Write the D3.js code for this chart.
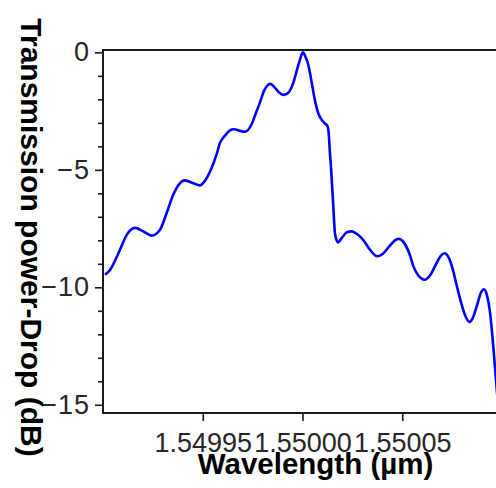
<!DOCTYPE html>
<html>
<head>
<meta charset="utf-8">
<script src="https://cdn.jsdelivr.net/npm/d3@7"></script>
<style>
html,body{margin:0;padding:0;background:#fff;}
svg{display:block;}
</style>
</head>
<body>
<svg id="chart" width="496" height="488"></svg>
<script>
// Wavelength (µm)
const wavelength = [
1.5499010,1.5499035,1.5499085,1.5499119,1.5499160,1.5499202,1.5499244,1.5499286,1.5499319,1.5499352,
1.5499394,1.5499411,1.5499452,1.5499486,1.5499520,1.5499545,1.5499570,1.5499586,1.5499611,1.5499636,
1.5499656,1.5499686,1.5499711,1.5499745,1.5499767,1.5499787,1.5499807,1.5499828,1.5499839,1.5499862,
1.5499882,1.5499903,1.5499922,1.5499942,1.5499957,1.5499970,1.5499987,1.5500002,1.5500015,1.5500029,
1.5500042,1.5500054,1.5500065,1.5500079,1.5500096,1.5500112,1.5500126,1.5500132,1.5500137,1.5500142,
1.5500146,1.5500154,1.5500162,1.5500170,1.5500179,1.5500192,1.5500207,1.5500222,1.5500246,1.5500268,
1.5500304,1.5500338,1.5500375,1.5500403,1.5500438,1.5500463,1.5500483,1.5500503,1.5500538,1.5500555,
1.5500578,1.5500613,1.5500638,1.5500668,1.5500693,1.5500713,1.5500733,1.5500754,1.5500772,1.5500794,
1.5500814,1.5500836,1.5500854,1.5500874,1.5500894,1.5500910,1.5500924,1.5500939,1.5500949,1.5500959,
1.5500969,1.5500976
];
// Transmission power - Drop (dB)
const dropDb = [
-9.47,-9.26,-8.40,-7.77,-7.47,-7.62,-7.80,-7.55,-6.84,-6.06,
-5.50,-5.45,-5.57,-5.66,-5.35,-4.91,-4.32,-3.86,-3.55,-3.32,
-3.27,-3.34,-3.38,-3.06,-2.57,-2.13,-1.64,-1.38,-1.34,-1.51,
-1.70,-1.81,-1.77,-1.55,-1.21,-0.82,-0.32,0.00,-0.19,-0.53,
-1.09,-1.67,-2.15,-2.59,-2.87,-3.02,-3.16,-3.51,-4.23,-4.79,
-5.35,-6.49,-7.64,-7.98,-8.09,-7.96,-7.79,-7.66,-7.62,-7.70,
-7.98,-8.40,-8.68,-8.57,-8.23,-8.00,-7.94,-8.04,-8.62,-9.09,
-9.47,-9.68,-9.51,-9.04,-8.66,-8.55,-8.74,-9.26,-9.89,-10.62,
-11.17,-11.47,-11.30,-10.79,-10.23,-10.08,-10.32,-11.00,-11.81,-12.79,
-13.85,-14.57
];
const xTicks = [1.54995, 1.55000, 1.55005];
const yTicks = [0, -5, -10, -15];
const yMinorTicks = [-1,-2,-3,-4,-6,-7,-8,-9,-11,-12,-13,-14];
const xDomain = [1.5499, 1.5501];
const yDomain = [0.1, -15.35];

const svg = d3.select("#chart");
const mLeft = 103, mRight = 502, mTop = 50, mBottom = 413;

const x = d3.scaleLinear().domain(xDomain).range([mLeft, mRight]);
const y = d3.scaleLinear().domain(yDomain).range([mTop, mBottom]);

const fontTick = "Arial, 'Liberation Sans', sans-serif";

// line
const data = wavelength.map((w, i) => ({w, v: dropDb[i]}));
const line = d3.line().x(d => x(d.w)).y(d => y(d.v)).curve(d3.curveMonotoneX);

svg.append("defs").append("clipPath").attr("id", "clip")
  .append("rect").attr("x", mLeft).attr("y", mTop - 3).attr("width", mRight - mLeft).attr("height", mBottom - mTop + 3);

svg.append("path")
  .datum(data)
  .attr("clip-path", "url(#clip)")
  .attr("fill", "none")
  .attr("stroke", "#0000ff")
  .attr("stroke-width", 2.6)
  .attr("stroke-linejoin", "round")
  .attr("d", line);

// frame lines
svg.append("line").attr("x1", mLeft).attr("x2", mRight).attr("y1", mTop).attr("y2", mTop)
  .attr("stroke", "#1a1a1a").attr("stroke-width", 2);
svg.append("line").attr("x1", mLeft).attr("x2", mRight).attr("y1", mBottom).attr("y2", mBottom)
  .attr("stroke", "#1a1a1a").attr("stroke-width", 2);
svg.append("line").attr("x1", mLeft).attr("x2", mLeft).attr("y1", mTop - 1).attr("y2", mBottom + 1)
  .attr("stroke", "#1a1a1a").attr("stroke-width", 2);

// y axis minor
const yMinor = svg.append("g").attr("transform", `translate(${mLeft},0)`)
  .call(d3.axisLeft(y).tickValues(yMinorTicks).tickSize(5).tickFormat(""));
yMinor.select(".domain").remove();
yMinor.selectAll("line").attr("stroke", "#1a1a1a").attr("stroke-width", 1.6);

// y axis major
const yAx = svg.append("g").attr("transform", `translate(${mLeft},0)`)
  .call(d3.axisLeft(y).tickValues(yTicks).tickSize(8).tickPadding(5));
yAx.select(".domain").remove();
yAx.selectAll("line").attr("stroke", "#1a1a1a").attr("stroke-width", 1.6);
yAx.selectAll("text").attr("font-family", fontTick).attr("font-size", 27)
  .attr("letter-spacing", 1).attr("fill", "#262626");

// x axis
const xAx = svg.append("g").attr("transform", `translate(0,${mBottom})`)
  .call(d3.axisBottom(x).tickValues(xTicks).tickSize(8).tickPadding(12).tickFormat(d3.format(".5f")));
xAx.select(".domain").remove();
xAx.selectAll("line").attr("stroke", "#1a1a1a").attr("stroke-width", 1.6);
xAx.selectAll("text").attr("font-family", fontTick).attr("font-size", 27).attr("fill", "#262626");

// titles
svg.append("text")
  .attr("x", 315.5).attr("y", 474)
  .attr("text-anchor", "middle")
  .attr("font-family", fontTick).attr("font-weight", "bold").attr("font-size", 29.5)
  .attr("fill", "#000")
  .text("Wavelength (µm)");

svg.append("text")
  .attr("transform", "translate(21,237.5) rotate(90)")
  .attr("text-anchor", "middle")
  .attr("font-family", fontTick).attr("font-weight", "bold").attr("font-size", 30)
  .attr("fill", "#000")
  .text("Transmission power-Drop (dB)");
</script>
</body>
</html>
